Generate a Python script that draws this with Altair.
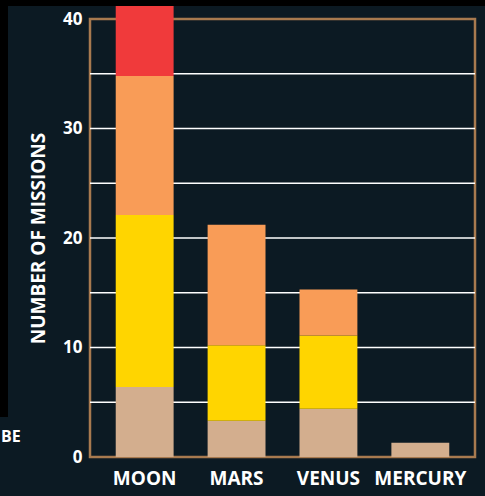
import altair as alt
import pandas as pd

# Stacked mission counts per destination
bodies = ["MOON", "MARS", "VENUS", "MERCURY"]
series = ["Tier 1", "Tier 2", "Tier 3", "Tier 4"]
tier1 = [6.4, 3.3, 4.4, 1.3]
tier2 = [15.7, 6.9, 6.7, 0.0]
tier3 = [12.7, 11.0, 4.2, 0.0]
tier4 = [6.4, 0.0, 0.0, 0.0]
colors = ["#d3ae8e", "#ffd500", "#f99c57", "#f03a3b"]

grid_values = [5, 10, 15, 20, 25, 30, 35]
y_ticks = [0, 10, 20, 30, 40]

rows = []
for rank, (name, vals) in enumerate(zip(series, [tier1, tier2, tier3, tier4])):
    for body, v in zip(bodies, vals):
        rows.append({"body": body, "series": name, "count": v, "rank": rank})
df = pd.DataFrame(rows)

W, H = 385, 438
FONT = "Open Sans"
WEIGHT = "bold"

y_scale = alt.Scale(domain=[0, 40], nice=False)

grid = alt.Chart(pd.DataFrame({"count": grid_values})).mark_rule(
    color="#ffffff", strokeWidth=1.6
).encode(
    y=alt.Y("count:Q", scale=y_scale, title="NUMBER OF MISSIONS"),
    x=alt.value(0),
    x2=alt.value(W),
)

bars = alt.Chart(df).mark_bar().encode(
    x=alt.X(
        "body:N",
        sort=bodies,
        scale=alt.Scale(paddingInner=0.37, paddingOuter=0.28),
        axis=alt.Axis(title=None, labelAngle=0, labelPadding=12, labelFontSize=19),
    ),
    y=alt.Y(
        "count:Q",
        stack="zero",
        scale=y_scale,
        title="NUMBER OF MISSIONS",
        axis=alt.Axis(
            values=y_ticks,
            grid=False,
            labelPadding=8,
            labelFontSize=17,
            titleFontSize=19,
            titlePadding=14,
        ),
    ),
    color=alt.Color("series:N", scale=alt.Scale(domain=series, range=colors), legend=None),
    order=alt.Order("rank:Q"),
)

# dark surround at the top and left edges
edge = pd.DataFrame({"k": ["top", "left"]})
top_strip = alt.Chart(edge.iloc[[0]]).mark_rect(color="#000000").encode(
    x=alt.value(-90), x2=alt.value(W + 10), y=alt.value(-19), y2=alt.value(-13)
)
left_strip = alt.Chart(edge.iloc[[1]]).mark_rect(color="#000000").encode(
    x=alt.value(-90), x2=alt.value(-82), y=alt.value(-19), y2=alt.value(398)
)

side_text = alt.Chart(pd.DataFrame({"t": ["BE"]})).mark_text(
    align="left", baseline="middle", font=FONT, fontSize=16, fontWeight=WEIGHT, color="#ffffff"
).encode(text="t:N", x=alt.value(-89), y=alt.value(418))

chart = (
    alt.layer(grid, bars, top_strip, left_strip, side_text)
    .properties(
        width=W,
        height=H,
        padding={"left": 90, "top": 19, "right": 10, "bottom": 39},
        autosize=alt.AutoSizeParams(type="none"),
        background="#0c1a23",
    )
    .configure_view(stroke="#a87a4f", strokeWidth=2.5)
    .configure_axis(
        labelFont=FONT,
        labelFontWeight=WEIGHT,
        labelColor="#ffffff",
        titleFont=FONT,
        titleFontWeight=WEIGHT,
        titleColor="#ffffff",
        domain=False,
        ticks=False,
    )
)

chart.save("out.html", embed_options={"renderer": "svg", "actions": False})
